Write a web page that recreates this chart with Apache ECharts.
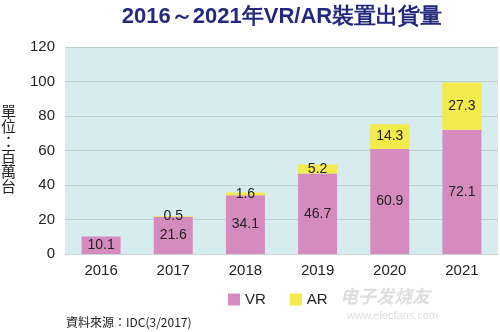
<!DOCTYPE html>
<html>
<head>
<meta charset="utf-8">
<script src="https://cdn.jsdelivr.net/npm/echarts@6/dist/echarts.min.js"></script>
<style>
  html, body { margin: 0; padding: 0; background: #fff; }
  #chart { width: 500px; height: 332px; }
</style>
</head>
<body>
<div id="chart"></div>
<script>
// Shipments in millions of units
const years = ['2016', '2017', '2018', '2019', '2020', '2021'];
const vrValues = [10.1, 21.6, 34.1, 46.7, 60.9, 72.1];
const arValues = [null, 0.5, 1.6, 5.2, 14.3, 27.3];

const FONT = '"Liberation Sans", Arial, sans-serif';
const chart = echarts.init(document.getElementById('chart'));

const segLabel = {
  show: true,
  position: 'inside',
  color: '#222',
  fontSize: 14,
  fontFamily: FONT
};

chart.setOption({
  animation: false,
  textStyle: { fontFamily: FONT },
  title: {
    text: '2016～2021年VR/AR裝置出貨量',
    left: 277,
    textAlign: 'center',
    top: 1,
    textStyle: { color: '#232a7e', fontSize: 22, fontWeight: 'bold', fontFamily: FONT }
  },
  grid: { left: 65, right: 2, top: 47, bottom: 78, show: true, backgroundColor: '#d6ecee', borderWidth: 0 },
  legend: {
    data: ['VR', 'AR'],
    left: 223,
    top: 287,
    itemWidth: 12,
    itemHeight: 12,
    itemGap: 24,
    icon: 'rect',
    textStyle: { fontSize: 15, color: '#222', fontFamily: FONT }
  },
  xAxis: {
    type: 'category',
    data: years,
    axisLine: { lineStyle: { color: '#c8d4d6' } },
    axisTick: { show: false },
    axisLabel: { fontSize: 15, color: '#222', margin: 9, fontFamily: FONT }
  },
  yAxis: {
    type: 'value',
    min: 0,
    max: 120,
    interval: 20,
    axisLine: { show: false },
    axisTick: { show: false },
    splitLine: { lineStyle: { color: '#bfcfd2', width: 1 } },
    axisLabel: { fontSize: 15, color: '#222', margin: 10, fontFamily: FONT }
  },
  series: [
    {
      name: 'VR',
      type: 'bar',
      stack: 'total',
      barWidth: '54%',
      itemStyle: { color: '#d58bbd' },
      label: segLabel,
      data: vrValues
    },
    {
      name: 'AR',
      type: 'bar',
      stack: 'total',
      barWidth: '54%',
      itemStyle: { color: '#f3ea4c' },
      label: segLabel,
      data: arValues
    }
  ],
  graphic: [
    {
      type: 'text',
      left: 1,
      top: 104,
      style: {
        text: '單\n位\n：\n百\n萬\n台',
        fill: '#222',
        font: '15px "Noto Sans CJK TC", sans-serif',
        lineHeight: 15,
        align: 'left'
      }
    },
    {
      type: 'text',
      left: 66,
      top: 316,
      style: {
        text: '資料來源：IDC(3/2017)',
        fill: '#222',
        font: '12px "Noto Sans CJK TC", sans-serif'
      }
    },
    {
      type: 'text',
      left: 340,
      top: 287,
      style: {
        text: '电子发烧友',
        fill: 'rgba(160,160,160,0.35)',
        font: 'italic bold 18px "Noto Sans CJK SC", sans-serif'
      }
    },
    {
      type: 'text',
      left: 347,
      top: 310,
      style: {
        text: 'www.elecfans.com',
        fill: 'rgba(160,160,160,0.35)',
        font: '11px "Liberation Sans", sans-serif'
      }
    }
  ]
});
</script>
</body>
</html>
